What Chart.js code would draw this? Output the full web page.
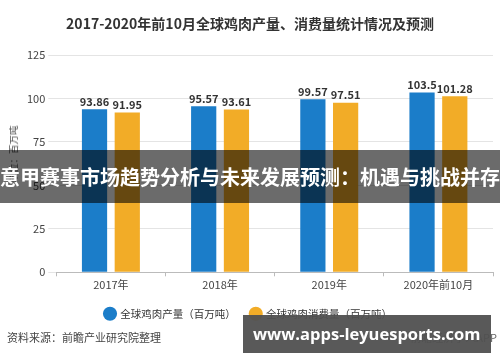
<!DOCTYPE html>
<html>
<head>
<meta charset="utf-8">
<script src="https://cdn.jsdelivr.net/npm/chart.js@4"></script>
<style>
  html, body { margin: 0; padding: 0; background: #fff; }
  #wrap { position: relative; width: 500px; height: 362px; overflow: hidden; font-family: "Noto Sans CJK SC", sans-serif; }
  #title { position: absolute; left: 0; width: 500px; top: 13px; text-align: center; font-size: 14px; font-weight: bold; color: #333; }
  #unit { position: absolute; left: 13px; top: 154px; transform: translate(-50%, -50%) rotate(-90deg); font-size: 9.5px; color: #555; white-space: nowrap; }
  #source { position: absolute; left: 7px; top: 329px; font-size: 11px; color: #444; }
  #app { position: absolute; right: 3px; top: 329px; font-size: 11px; color: #666; }
  #band { position: absolute; left: 0; top: 150px; width: 500px; height: 53px; background: rgba(0,0,0,0.58);
          color: #fff; font-size: 20px; font-weight: bold; line-height: 53px; white-space: nowrap; }
  #site { position: absolute; left: 243px; top: 315px; width: 248px; height: 38px; background: rgba(80,80,80,0.95);
          color: #fff; font-family: "Open Sans", sans-serif; font-size: 16.5px; font-weight: bold; line-height: 38px; text-indent: 10px; white-space: nowrap; }
</style>
</head>
<body>
<div id="wrap">
  <canvas id="c" width="500" height="362"></canvas>
  <div id="title">2017-2020年前10月全球鸡肉产量、消费量统计情况及预测</div>
  <div id="unit">单位：百万吨</div>
  <div id="source">资料来源：前瞻产业研究院整理</div>
  <div id="app">前瞻经济学人APP</div>
  <div id="band">意甲赛事市场趋势分析与未来发展预测：机遇与挑战并存</div>
  <div id="site">www.apps-leyuesports.com</div>
</div>
<script>
// chart data
const years = ['2017年', '2018年', '2019年', '2020年前10月'];
const production = [93.86, 95.57, 99.57, 103.5];
const consumption = [91.95, 93.61, 97.51, 101.28];
const yTicks = [0, 25, 50, 75, 100, 125];

// value labels above each bar
const barLabels = {
  id: 'barLabels',
  afterDatasetsDraw(chart){
    const ctx = chart.ctx;
    ctx.save();
    ctx.font = 'bold 11px "Noto Sans CJK SC", sans-serif';
    ctx.fillStyle = '#333';
    ctx.textAlign = 'center';
    ctx.textBaseline = 'bottom';
    chart.data.datasets.forEach((ds, i) => {
      chart.getDatasetMeta(i).data.forEach((bar, j) => {
        ctx.fillText(String(ds.data[j]), bar.x, bar.y - 2);
      });
    });
    ctx.restore();
  }
};

// legend sits centred on the whole picture, not on the padded box
const legendShift = {
  id: 'legendShift',
  afterLayout(chart){
    chart.legend.left -= 10;
    chart.legend.right -= 10;
  }
};

const chart = new Chart(document.getElementById('c'), {
  type: 'bar',
  data: {
    labels: years,
    datasets: [
      { label: '全球鸡肉产量（百万吨）', data: production, backgroundColor: '#1b7dc9' },
      { label: '全球鸡肉消费量（百万吨）', data: consumption, backgroundColor: '#f2ac27' }
    ]
  },
  options: {
    responsive: false,
    animation: false,
    devicePixelRatio: 1,
    categoryPercentage: 0.6,
    barPercentage: 0.77,
    layout: { padding: { top: 55, right: 7, bottom: 33, left: 24 } },
    plugins: {
      title: { display: false },
      tooltip: { enabled: false },
      legend: {
        display: true,
        position: 'bottom',
        labels: {
          usePointStyle: true,
          pointStyle: 'circle',
          boxWidth: 10,
          boxHeight: 10,
          padding: 15,
          color: '#333',
          font: { size: 10.5, family: '"Noto Sans CJK SC", sans-serif' }
        }
      }
    },
    scales: {
      x: {
        grid: { display: true, drawOnChartArea: false, drawTicks: true, tickLength: 4, color: '#bbb' },
        border: { color: '#bbb' },
        ticks: { color: '#444', padding: 2, font: { size: 11, family: '"Noto Sans CJK SC", sans-serif' } }
      },
      y: {
        min: 0,
        max: 125,
        afterBuildTicks: axis => { axis.ticks = yTicks.map(v => ({ value: v })); },
        grid: { color: '#e4e4e4', tickLength: 8 },
        border: { display: false },
        ticks: { color: '#444', padding: 3, font: { size: 11, family: '"Noto Sans CJK SC", sans-serif' } }
      }
    }
  },
  plugins: [barLabels, legendShift]
});
</script>
</body>
</html>
